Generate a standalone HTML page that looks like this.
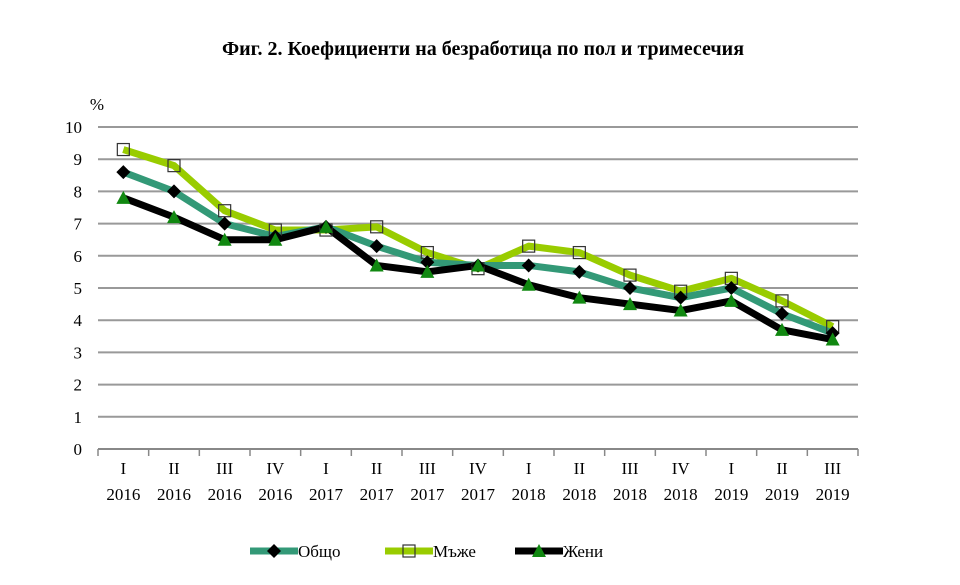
<!DOCTYPE html>
<html><head><meta charset="utf-8"><style>
body{margin:0;background:#fff;}
svg text{font-family:"Liberation Serif",serif;}
</style></head><body>
<svg width="960" height="580" xmlns="http://www.w3.org/2000/svg">
<text x="483" y="55" text-anchor="middle" font-size="20" font-weight="bold">Фиг. 2. Коефициенти на безработица по пол и тримесечия</text>
<text x="97" y="110" text-anchor="middle" font-size="17">%</text>
<g id="grid"></g><g id="series"></g><g id="xaxis"></g>
<g>
 <g><line x1="250" y1="551" x2="298" y2="551" stroke="#339977" stroke-width="7"/><path d="M274 544 L281 551 L274 558 L267 551Z" fill="#000"/><text x="298" y="557" font-size="17">Общо</text></g>
 <g><line x1="385" y1="551" x2="433" y2="551" stroke="#99cc00" stroke-width="7"/><rect x="403" y="545" width="12" height="12" fill="none" stroke="#333" stroke-width="1.2"/><text x="433" y="557" font-size="17">Мъже</text></g>
 <g><line x1="515" y1="551" x2="563" y2="551" stroke="#000" stroke-width="7"/><path d="M539 544 L546 557 L532 557Z" fill="#118811"/><text x="563" y="557" font-size="17">Жени</text></g>
</g>
</svg>
<script>
const quarters=["I","II","III","IV","I","II","III","IV","I","II","III","IV","I","II","III"];
const years=["2016","2016","2016","2016","2017","2017","2017","2017","2018","2018","2018","2018","2019","2019","2019"];
const total=[8.6,8.0,7.0,6.6,6.9,6.3,5.8,5.7,5.7,5.5,5.0,4.7,5.0,4.2,3.6];
const men=[9.3,8.8,7.4,6.8,6.8,6.9,6.1,5.6,6.3,6.1,5.4,4.9,5.3,4.6,3.8];
const women=[7.8,7.2,6.5,6.5,6.9,5.7,5.5,5.7,5.1,4.7,4.5,4.3,4.6,3.7,3.4];
const yTicks=[0,1,2,3,4,5,6,7,8,9,10];
const NS="http://www.w3.org/2000/svg";
const X0=98,X1=858,Y0=449,Y1=127,YMAX=10;
const bw=(X1-X0)/quarters.length;
const xs=i=>X0+bw*(i+0.5);
const ys=v=>Y0-(v/YMAX)*(Y0-Y1);
function mk(t,a,p){const e=document.createElementNS(NS,t);for(const k in a)e.setAttribute(k,a[k]);p.appendChild(e);return e;}
const grid=document.getElementById('grid');
yTicks.forEach(v=>{
 const l=mk('line',{x1:X0,x2:X1,y1:ys(v),y2:ys(v),stroke:v===0?'#888':'#999','stroke-width':2},grid);
 
 
 const t=mk('text',{x:82,y:ys(v)+6,'text-anchor':'end','font-size':17},grid);t.textContent=v;
 
 
});
const xa=document.getElementById('xaxis');
for(let i=0;i<=quarters.length;i++){const x=X0+bw*i;const l=mk('line',{x1:x,x2:x,y1:Y0,y2:Y0+7,stroke:'#888','stroke-width':1.5},xa);
 
 }
quarters.forEach((q,i)=>{
 const t=mk('text',{x:xs(i),y:474,'text-anchor':'middle','font-size':17},xa);t.textContent=q;
 
 
 const t2=mk('text',{x:xs(i),y:500,'text-anchor':'middle','font-size':17},xa);t2.textContent=years[i];
 
 
});
const sg=document.getElementById('series');
function series(data,color,name){
 const p=mk('polyline',{points:data.map((v,i)=>xs(i)+','+ys(v)).join(' '),fill:'none',stroke:color,'stroke-width':7,'stroke-linejoin':'round'},sg);
 
 
}
series(men,'#99cc00','men');series(total,'#339977','total');series(women,'#000','women');
men.forEach((v,i)=>{const r=mk('rect',{x:xs(i)-6,y:ys(v)-6,width:12,height:12,fill:'none',stroke:'#333','stroke-width':1.2},sg);
 
 });
total.forEach((v,i)=>{const x=xs(i),y=ys(v);const d=mk('path',{d:`M${x} ${y-7}L${x+7} ${y}L${x} ${y+7}L${x-7} ${y}Z`,fill:'#000'},sg);
 
 });
women.forEach((v,i)=>{const x=xs(i),y=ys(v);const d=mk('path',{d:`M${x} ${y-7}L${x+7} ${y+6}L${x-7} ${y+6}Z`,fill:'#118811'},sg);
 
 });
</script>
</body></html>
